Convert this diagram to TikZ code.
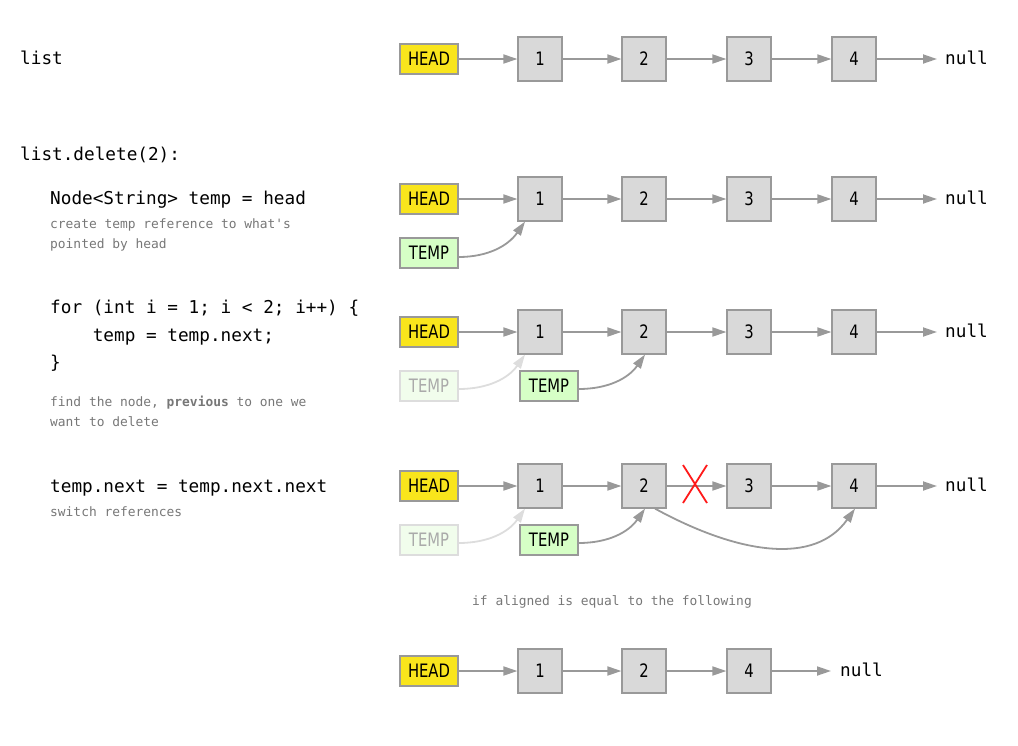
\documentclass[tikz,border=0pt]{standalone}
\usepackage{fontspec}
\setmainfont{DejaVu Sans}
\newfontfamily\codefont{DejaVu Sans Mono}
\newfontfamily\boxfont{DejaVu Sans}[FakeStretch=0.8]
\usetikzlibrary{arrows.meta}

\definecolor{boxline}{HTML}{999999}
\definecolor{nodefill}{HTML}{D9D9D9}
\definecolor{headfill}{HTML}{F9E51C}
\definecolor{tempfill}{HTML}{D6FFC6}
\definecolor{ghostfill}{HTML}{F1FDEC}
\definecolor{ghostline}{HTML}{DDDDDD}
\definecolor{ghosttext}{HTML}{AAAAAA}
\definecolor{linkgray}{HTML}{999999}
\definecolor{notegray}{HTML}{777777}
\definecolor{crossred}{HTML}{FF1A1A}

\tikzset{
  cell/.style={draw=boxline, line width=1.2pt, fill=nodefill, minimum width=44pt,
    minimum height=44pt, inner sep=0pt, font=\boxfont\fontsize{18.5}{20}\selectfont},
  ptr/.style={draw=boxline, line width=1.2pt, minimum width=58pt, minimum height=30pt,
    inner sep=0pt, font=\boxfont\fontsize{18.5}{20}\selectfont},
  headptr/.style={ptr, fill=headfill},
  tempptr/.style={ptr, fill=tempfill},
  ghostptr/.style={ptr, draw=ghostline, fill=ghostfill, text=ghosttext},
  link/.style={draw=linkgray, line width=1.8pt, -{Triangle[length=14pt,width=9pt]}},
  ghostlink/.style={link, draw=ghostline, -{Triangle[length=14pt,width=9pt,fill=ghostline]}},
  code/.style={anchor=base west, inner sep=0pt, font=\codefont\fontsize{17.7}{20}\selectfont},
  note/.style={anchor=base west, inner sep=0pt, text=notegray, font=\codefont\fontsize{12.9}{15}\selectfont},
}

\begin{document}
\begin{tikzpicture}[x=1pt, y=-1pt]
\useasboundingbox (0,0) rectangle (1018,745);

% ---- left column: code and notes
\node[code] (c1) at (20,64) {list};
\node[code] (c2) at (20,160) {list.delete(2):};
\node[code] (c3) at (50,204) {Node<String> temp = head};
\node[note] (n3a) at (50,228) {create temp reference to what's};
\node[note] (n3b) at (50,248) {pointed by head};
\node[code] (c4) at (50,313) {for (int i = 1; i < 2; i++) \{};
\node[code] (c5) at (50,341) {\ \ \ \ temp = temp.next;};
\node[code] (c6) at (50,368) {\}};
\node[note] (n4a) at (50,406) {find the node, {\bfseries previous} to one we};
\node[note] (n4b) at (50,426) {want to delete};
\node[code] (c7) at (50,492) {temp.next = temp.next.next};
\node[note] (n5a) at (50,516) {switch references};
\node[note] (n6) at (472,605) {if aligned is equal to the following};

% ---- row 1: the list
\node[headptr] (h1) at (429,59) {HEAD};
\node[cell] (a1) at (540,59) {1};
\node[cell] (b1) at (644,59) {2};
\node[cell] (c1n) at (749,59) {3};
\node[cell] (d1) at (854,59) {4};
\node[code] (z1) at (945,64) {null};
\coordinate (e1) at (937,59);
\draw[link] (h1) -- (a1);
\draw[link] (a1) -- (b1);
\draw[link] (b1) -- (c1n);
\draw[link] (c1n) -- (d1);
\draw[link] (d1) -- (e1);

% ---- row 2: temp = head
\node[headptr] (h2) at (429,199) {HEAD};
\node[tempptr] (t2) at (429,253) {TEMP};
\node[cell] (a2) at (540,199) {1};
\node[cell] (b2) at (644,199) {2};
\node[cell] (c2n) at (749,199) {3};
\node[cell] (d2) at (854,199) {4};
\node[code] (z2) at (945,204) {null};
\coordinate (e2) at (937,199);
\draw[link] (h2) -- (a2);
\draw[link] (a2) -- (b2);
\draw[link] (b2) -- (c2n);
\draw[link] (c2n) -- (d2);
\draw[link] (d2) -- (e2);
\draw[link] ([yshift=-4pt]t2.east) to[out=0, in=-125] ([xshift=-15pt]a2.south);

% ---- row 3: temp = temp.next
\node[headptr] (h3) at (429,332) {HEAD};
\node[ghostptr] (g3) at (429,386) {TEMP};
\node[tempptr] (t3) at (549,386) {TEMP};
\node[cell] (a3) at (540,332) {1};
\node[cell] (b3) at (644,332) {2};
\node[cell] (c3n) at (749,332) {3};
\node[cell] (d3) at (854,332) {4};
\node[code] (z3) at (945,337) {null};
\coordinate (e3) at (937,332);
\draw[link] (h3) -- (a3);
\draw[link] (a3) -- (b3);
\draw[link] (b3) -- (c3n);
\draw[link] (c3n) -- (d3);
\draw[link] (d3) -- (e3);
\draw[ghostlink] ([yshift=-3pt]g3.east) to[out=0, in=-125] ([xshift=-15pt]a3.south);
\draw[link] ([yshift=-3pt]t3.east) to[out=0, in=-125] ([xshift=1pt]b3.south);

% ---- row 4: temp.next = temp.next.next
\node[headptr] (h4) at (429,486) {HEAD};
\node[ghostptr] (g4) at (429,540) {TEMP};
\node[tempptr] (t4) at (549,540) {TEMP};
\node[cell] (a4) at (540,486) {1};
\node[cell] (b4) at (644,486) {2};
\node[cell] (c4n) at (749,486) {3};
\node[cell] (d4) at (854,486) {4};
\node[code] (z4) at (945,491) {null};
\coordinate (e4) at (937,486);
\draw[link] (h4) -- (a4);
\draw[link] (a4) -- (b4);
\draw[link] (b4) -- (c4n);
\draw[link] (c4n) -- (d4);
\draw[link] (d4) -- (e4);
\draw[ghostlink] ([yshift=-3pt]g4.east) to[out=0, in=-125] ([xshift=-15pt]a4.south);
\draw[link] ([yshift=-3pt]t4.east) to[out=0, in=-125] ([xshift=1pt]b4.south);
\draw[link] ([xshift=11pt]b4.south) .. controls (740,555) and (815,565) .. ([xshift=1pt]d4.south);
% the cut link between 2 and 3
\coordinate (x1) at (683,465);
\coordinate (x2) at (707,503);
\coordinate (x3) at (707,465);
\coordinate (x4) at (683,503);
\draw[crossred, line width=1.8pt] (x1) -- (x2) (x3) -- (x4);

% ---- row 5: the resulting list
\node[headptr] (h5) at (429,671) {HEAD};
\node[cell] (a5) at (540,671) {1};
\node[cell] (b5) at (644,671) {2};
\node[cell] (d5) at (749,671) {4};
\node[code] (z5) at (840,676) {null};
\coordinate (e5) at (831,671);
\draw[link] (h5) -- (a5);
\draw[link] (a5) -- (b5);
\draw[link] (b5) -- (d5);
\draw[link] (d5) -- (e5);
\end{tikzpicture}
\end{document}
